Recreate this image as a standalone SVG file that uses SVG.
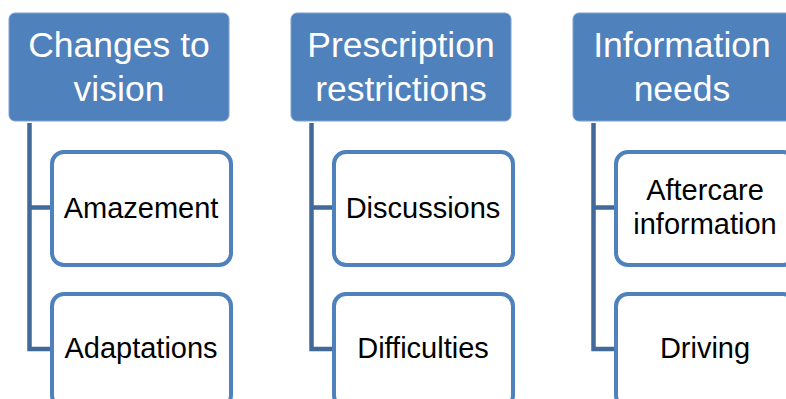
<svg xmlns="http://www.w3.org/2000/svg" width="786" height="399" viewBox="0 0 786 399">
<style>
.hdr{fill:#4F81BD;stroke:#7FA1CC;stroke-width:1}
.child{fill:#FFFFFF;stroke:#4F81BD;stroke-width:4}
.conn{fill:none;stroke:#41699A;stroke-width:4.5}
.ht{font-family:"Liberation Sans",Arial,sans-serif;font-size:35.5px;fill:#FFFFFF;text-anchor:middle}
.ct{font-family:"Liberation Sans",Arial,sans-serif;font-size:29px;fill:#000000;text-anchor:middle}
</style>
<rect width="786" height="399" fill="#FFFFFF"/>
<g id="connectors">
<path class="conn" d="M29.5 123 V349 H52 M29.5 207.5 H52"/>
<path class="conn" d="M311.5 123 V349 H334 M311.5 207.5 H334"/>
<path class="conn" d="M593.5 123 V349 H616 M593.5 207.5 H616"/>
</g>
<g id="h1"><rect class="hdr" x="9" y="13" width="220" height="108" rx="6"/><text class="ht" x="119" y="56.5">Changes to</text><text class="ht" x="119" y="100.5">vision</text></g>
<g id="h2"><rect class="hdr" x="291" y="13" width="220" height="108" rx="6"/><text class="ht" x="401" y="56.5">Prescription</text><text class="ht" x="401" y="100.5">restrictions</text></g>
<g id="h3"><rect class="hdr" x="573" y="13" width="220" height="108" rx="6"/><text class="ht" x="682" y="56.5">Information</text><text class="ht" x="682" y="100.5">needs</text></g>
<g id="c1a"><rect class="child" x="52" y="152" width="179" height="113" rx="12"/><text class="ct" x="141" y="217.5">Amazement</text></g>
<g id="c1b"><rect class="child" x="52" y="294" width="179" height="113" rx="12"/><text class="ct" x="141" y="358">Adaptations</text></g>
<g id="c2a"><rect class="child" x="334" y="152" width="179" height="113" rx="12"/><text class="ct" x="423" y="217.5">Discussions</text></g>
<g id="c2b"><rect class="child" x="334" y="294" width="179" height="113" rx="12"/><text class="ct" x="423" y="358">Difficulties</text></g>
<g id="c3a"><rect class="child" x="616" y="152" width="179" height="113" rx="12"/><text class="ct" x="705" y="200">Aftercare</text><text class="ct" x="705" y="234">information</text></g>
<g id="c3b"><rect class="child" x="616" y="294" width="179" height="113" rx="12"/><text class="ct" x="705" y="358">Driving</text></g>
</svg>
